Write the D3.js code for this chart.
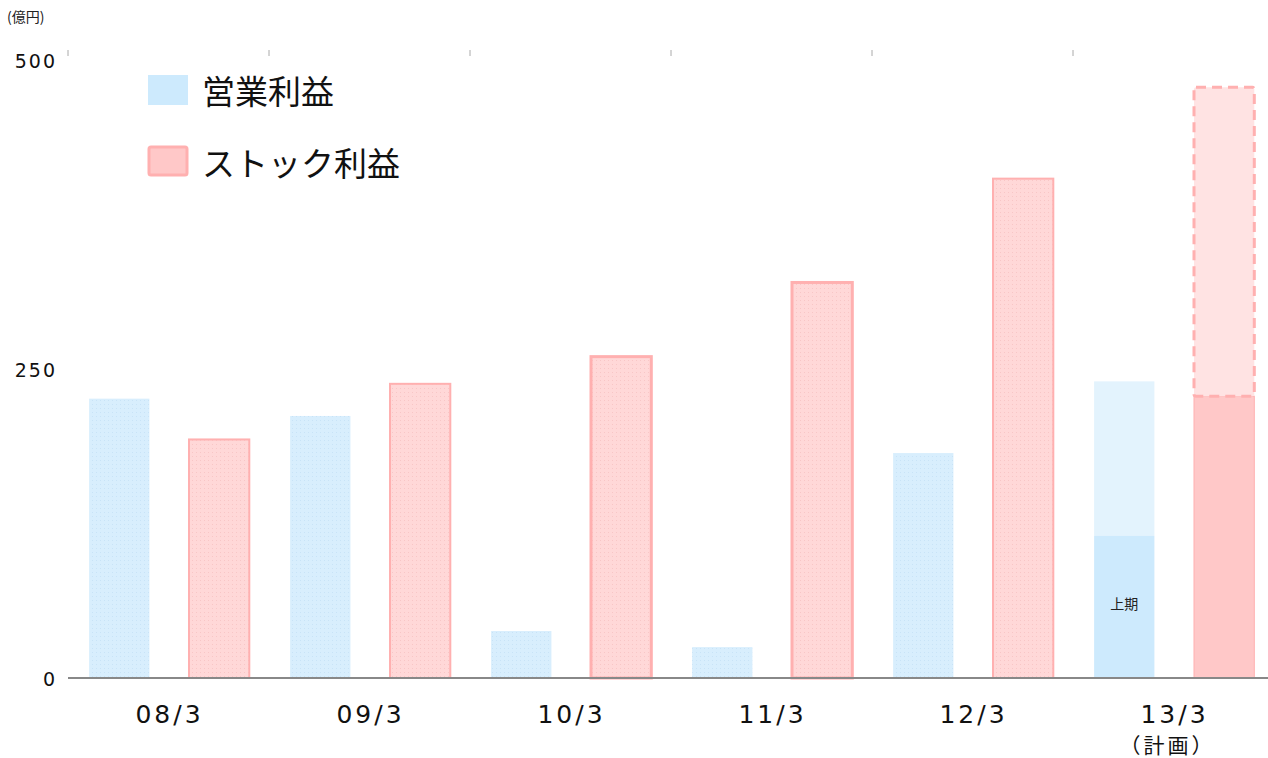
<!DOCTYPE html>
<html>
<head>
<meta charset="utf-8">
<script src="https://cdn.jsdelivr.net/npm/d3@7"></script>
<style>
  body { margin: 0; background: #fff; }
  svg { display: block; font-family: "Noto Sans CJK JP", "Noto Sans", sans-serif; }
  .num { font-family: "DejaVu Sans", sans-serif; }
</style>
</head>
<body>
<div id="chart"></div>
<script>
// data (億円)
let categories = ['08/3', '09/3', '10/3', '11/3', '12/3', '13/3']
let operating = [226, 212, 38, 25, 182, 240]   // 営業利益 (13/3 = plan)
let stock = [193, 238, 260, 320, 404, 478]     // ストック利益 (13/3 = plan)
let operatingFirstHalf = 115                   // 13/3 上期
let stockActual13 = 228                        // 13/3 solid part
let yTicks = [0, 250, 500]

let svgWidth = 1268
let svgHeight = 758
let svg = d3.select('#chart').append('svg')
    .attr('width', svgWidth)
    .attr('height', svgHeight)

let x = d3.scaleBand()
    .domain(categories)
    .range([68, 68 + 201 * categories.length])
    .padding(0)
let y = d3.scaleLinear()
    .domain([0, 500])
    .range([678, 60])

let bw = x.bandwidth()
let barW = bw * 0.3
let blueOff = bw * 0.105
let redOff = bw * 0.602

// textures
let defs = svg.append('defs')
function grid(id, base, line) {
    let p = defs.append('pattern')
        .attr('id', id)
        .attr('width', 4).attr('height', 4)
        .attr('patternUnits', 'userSpaceOnUse')
    p.append('rect').attr('width', 4).attr('height', 4).attr('fill', base)
    p.append('rect').attr('width', 1).attr('height', 1).attr('fill', line)
}
grid('blueTex', '#d8eefd', '#c8e3f7')
grid('redTex', '#ffd8d8', '#f8c6c6')

// unit
svg.append('text')
    .attr('x', 7).attr('y', 22)
    .attr('font-size', 14)
    .attr('fill', '#222')
    .text('(億円)')

// top tick marks
svg.append('g')
    .selectAll('line')
    .data(categories)
    .enter()
    .append('line')
    .attr('x1', d => x(d)).attr('x2', d => x(d))
    .attr('y1', 50).attr('y2', 56)
    .attr('stroke', '#aaa')
    .attr('stroke-width', 1)

// y tick labels
svg.append('g')
    .selectAll('text')
    .data(yTicks)
    .enter()
    .append('text')
    .attr('class', 'num')
    .attr('x', 57)
    .attr('y', d => y(d) + 8)
    .attr('text-anchor', 'end')
    .attr('font-size', 19)
    .attr('letter-spacing', 2)
    .attr('fill', '#111')
    .text(d => d)

let past = categories.slice(0, 5)

// operating profit bars
svg.append('g')
    .selectAll('rect')
    .data(past)
    .enter()
    .append('rect')
    .attr('x', d => x(d) + blueOff)
    .attr('y', (d, i) => y(operating[i]))
    .attr('width', barW)
    .attr('height', (d, i) => y(0) - y(operating[i]))
    .attr('fill', 'url(#blueTex)')

// stock profit bars
svg.append('g')
    .selectAll('rect')
    .data(past)
    .enter()
    .append('rect')
    .attr('x', d => x(d) + redOff)
    .attr('y', (d, i) => y(stock[i]))
    .attr('width', barW)
    .attr('height', (d, i) => y(0) - y(stock[i]))
    .attr('fill', 'url(#redTex)')
    .attr('stroke', '#ffb0b0')
    .attr('stroke-width', (d, i) => (i == 2 || i == 3) ? 3 : 2)

// 13/3 plan
let last = categories[5]
svg.append('rect')
    .attr('x', x(last) + blueOff)
    .attr('y', y(operating[5]))
    .attr('width', barW)
    .attr('height', y(operatingFirstHalf) - y(operating[5]))
    .attr('fill', '#e3f3fd')
svg.append('rect')
    .attr('x', x(last) + blueOff)
    .attr('y', y(operatingFirstHalf))
    .attr('width', barW)
    .attr('height', y(0) - y(operatingFirstHalf))
    .attr('fill', '#cdeafd')
svg.append('text')
    .attr('x', x(last) + blueOff + barW / 2)
    .attr('y', 609)
    .attr('text-anchor', 'middle')
    .attr('font-size', 14)
    .attr('fill', '#222')
    .text('上期')

svg.append('rect')
    .attr('x', x(last) + redOff)
    .attr('y', y(stockActual13))
    .attr('width', barW)
    .attr('height', y(0) - y(stockActual13))
    .attr('fill', '#ffc8c8')
    .attr('stroke', '#ffb0b0')
    .attr('stroke-width', 1)
svg.append('rect')
    .attr('x', x(last) + redOff)
    .attr('y', y(stock[5]))
    .attr('width', barW)
    .attr('height', y(stockActual13) - y(stock[5]))
    .attr('rx', 2)
    .attr('fill', '#ffe3e3')
    .attr('stroke', '#ffb0b0')
    .attr('stroke-width', 3)
    .attr('stroke-dasharray', '10,6')

// baseline
svg.append('line')
    .attr('x1', 68).attr('x2', svgWidth)
    .attr('y1', y(0)).attr('y2', y(0))
    .attr('stroke', '#888')
    .attr('stroke-width', 2)

// x labels
svg.append('g')
    .selectAll('text')
    .data(categories)
    .enter()
    .append('text')
    .attr('class', 'num')
    .attr('x', d => x(d) + bw / 2 + 1)
    .attr('y', 723)
    .attr('text-anchor', 'middle')
    .attr('font-size', 25)
    .attr('letter-spacing', 3)
    .attr('fill', '#111')
    .text(d => d)
svg.append('text')
    .attr('x', x(last) + bw / 2 - 6)
    .attr('y', 753)
    .attr('text-anchor', 'middle')
    .attr('font-size', 21)
    .attr('letter-spacing', 3)
    .attr('fill', '#111')
    .text('（計画）')

// legend
let legend = [
    { name: '営業利益', fill: '#cdeafd', stroke: 'none', y: 75 },
    { name: 'ストック利益', fill: '#ffc8c8', stroke: '#ffb0b0', y: 147 }
]
let lg = svg.append('g')
lg.selectAll('rect')
    .data(legend)
    .enter()
    .append('rect')
    .attr('x', d => d.stroke == 'none' ? 148 : 149)
    .attr('y', d => d.y)
    .attr('width', d => d.stroke == 'none' ? 40 : 38)
    .attr('height', d => d.stroke == 'none' ? 30 : 28)
    .attr('rx', d => d.stroke == 'none' ? 0 : 2)
    .attr('fill', d => d.fill)
    .attr('stroke', d => d.stroke)
    .attr('stroke-width', 3)
lg.selectAll('text')
    .data(legend)
    .enter()
    .append('text')
    .attr('x', 202)
    .attr('y', d => d.y + 29)
    .attr('font-size', 33)
    .attr('fill', '#111')
    .text(d => d.name)
</script>
</body>
</html>
